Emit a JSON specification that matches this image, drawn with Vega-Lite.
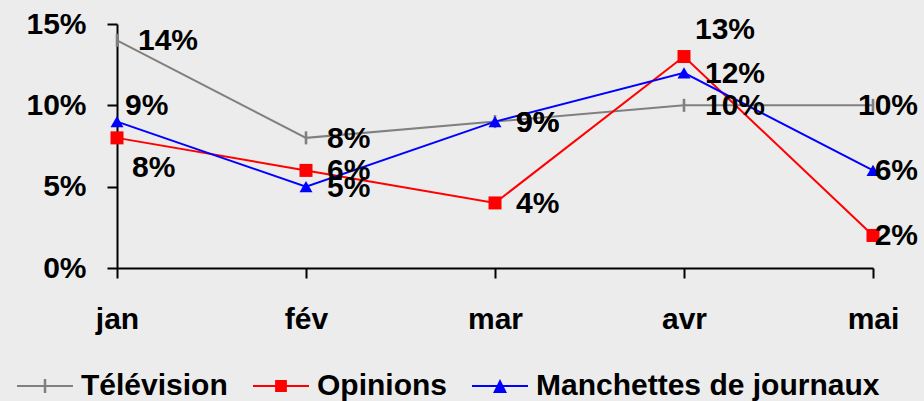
{
  "$schema": "https://vega.github.io/schema/vega-lite/v6.json",
  "width": 756,
  "height": 244,
  "autosize": {"type": "none"},
  "padding": {"left": 117, "top": 24, "right": 51, "bottom": 133},
  "background": "#ececec",
  "config": {"font": "Liberation Sans", "view": {"stroke": null}},
  "data": {
    "values": [
      {"month": "jan", "series": "Télévision", "value": 0.14},
      {"month": "fév", "series": "Télévision", "value": 0.08},
      {"month": "mar", "series": "Télévision", "value": 0.09},
      {"month": "avr", "series": "Télévision", "value": 0.10},
      {"month": "mai", "series": "Télévision", "value": 0.10},
      {"month": "jan", "series": "Opinions", "value": 0.08},
      {"month": "fév", "series": "Opinions", "value": 0.06},
      {"month": "mar", "series": "Opinions", "value": 0.04},
      {"month": "avr", "series": "Opinions", "value": 0.13},
      {"month": "mai", "series": "Opinions", "value": 0.02},
      {"month": "jan", "series": "Manchettes de journaux", "value": 0.09},
      {"month": "fév", "series": "Manchettes de journaux", "value": 0.05},
      {"month": "mar", "series": "Manchettes de journaux", "value": 0.09},
      {"month": "avr", "series": "Manchettes de journaux", "value": 0.12},
      {"month": "mai", "series": "Manchettes de journaux", "value": 0.06}
    ]
  },
  "encoding": {
    "x": {
      "field": "month", "type": "ordinal",
      "sort": ["jan", "fév", "mar", "avr", "mai"],
      "scale": {"type": "point", "padding": 0},
      "axis": {"title": null, "labelAngle": 0, "labelFontSize": 30, "labelFontWeight": "bold", "labelColor": "black",
               "tickSize": 10, "tickWidth": 2, "tickColor": "black", "domainColor": "black", "domainWidth": 2, "labelPadding": 26, "grid": false}
    },
    "y": {
      "field": "value", "type": "quantitative",
      "scale": {"domain": [0, 0.15], "nice": false},
      "axis": {"title": null, "values": [0, 0.05, 0.1, 0.15], "format": ".0%", "grid": false, "labelFontSize": 30, "labelFontWeight": "bold", "labelColor": "black",
               "tickSize": 10, "tickWidth": 2, "tickColor": "black", "domainColor": "black", "domainWidth": 2, "labelPadding": 21}
    },
    "color": {
      "field": "series", "type": "nominal",
      "scale": {"domain": ["Télévision", "Opinions", "Manchettes de journaux"], "range": ["#808080", "#ff0000", "#0000ff"]},
      "legend": {"title": null, "orient": "none", "legendX": -100, "legendY": 334, "direction": "horizontal", "columns": 3,
                 "labelFontSize": 30, "labelFontWeight": "bold", "labelColor": "black", "labelOffset": 8, "columnPadding": 25,
                 "symbolSize": 3136, "symbolOpacity": 1, "symbolStrokeWidth": 0, "labelLimit": 500}
    }
  },
  "layer": [
    {"mark": {"type": "line", "strokeWidth": 2}},
    {
      "mark": {"type": "point", "filled": true, "opacity": 0},
      "encoding": {
        "shape": {
          "field": "series", "type": "nominal",
          "scale": {
            "domain": ["Télévision", "Opinions", "Manchettes de journaux"],
            "range": [
              "M-1,-0.037H1V0.037H-1Z M-0.045,-0.25H0.045V0.25H-0.045Z",
              "M-1,-0.037H1V0.037H-1Z M-0.21,-0.21H0.21V0.21H-0.21Z",
              "M-1,-0.037H1V0.037H-1Z M-0.25,0.25L0,-0.25L0.25,0.25Z"
            ]
          },
          "legend": {"title": null, "orient": "none", "legendX": -100, "legendY": 334, "direction": "horizontal", "columns": 3,
                     "labelFontSize": 30, "labelFontWeight": "bold", "labelColor": "black", "labelOffset": 8, "columnPadding": 25,
                     "symbolSize": 3136, "symbolOpacity": 1, "symbolStrokeWidth": 0, "labelLimit": 500}
        }
      }
    },
    {
      "transform": [{"filter": "datum.series == 'Télévision'"}],
      "mark": {"type": "point", "filled": true, "opacity": 1, "size": 169, "shape": "M-0.2,-1H0.2V1H-0.2Z"}
    },
    {
      "transform": [{"filter": "datum.series == 'Opinions'"}],
      "mark": {"type": "point", "filled": true, "opacity": 1, "size": 169, "shape": "square"}
    },
    {
      "transform": [{"filter": "datum.series == 'Manchettes de journaux'"}],
      "mark": {"type": "point", "filled": true, "opacity": 1, "size": 169, "shape": "triangle-up"}
    },
    {
      "transform": [{"filter": "datum.month != 'mai' && !(datum.month == 'jan' && datum.series != 'Télévision') && !(datum.month == 'avr' && datum.series == 'Opinions')"}],
      "mark": {"type": "text", "align": "left", "baseline": "middle", "dx": 21, "dy": 1, "fontSize": 30, "fontWeight": "bold"},
      "encoding": {"text": {"field": "value", "type": "quantitative", "format": ".0%"}, "color": {"value": "black"}}
    },
    {
      "transform": [{"filter": "datum.month == 'mai'"}],
      "mark": {"type": "text", "align": "right", "baseline": "middle", "dx": 45, "dy": 1, "fontSize": 30, "fontWeight": "bold"},
      "encoding": {"text": {"field": "value", "type": "quantitative", "format": ".0%"}, "color": {"value": "black"}}
    },
    {
      "transform": [{"filter": "datum.month == 'jan' && datum.series == 'Opinions'"}],
      "mark": {"type": "text", "align": "left", "baseline": "middle", "dx": 15, "dy": 30, "fontSize": 30, "fontWeight": "bold"},
      "encoding": {"text": {"field": "value", "type": "quantitative", "format": ".0%"}, "color": {"value": "black"}}
    },
    {
      "transform": [{"filter": "datum.month == 'jan' && datum.series == 'Manchettes de journaux'"}],
      "mark": {"type": "text", "align": "left", "baseline": "middle", "dx": 8, "dy": -16, "fontSize": 30, "fontWeight": "bold"},
      "encoding": {"text": {"field": "value", "type": "quantitative", "format": ".0%"}, "color": {"value": "black"}}
    },
    {
      "transform": [{"filter": "datum.month == 'avr' && datum.series == 'Opinions'"}],
      "mark": {"type": "text", "align": "left", "baseline": "middle", "dx": 11, "dy": -27, "fontSize": 30, "fontWeight": "bold"},
      "encoding": {"text": {"field": "value", "type": "quantitative", "format": ".0%"}, "color": {"value": "black"}}
    }
  ]
}
